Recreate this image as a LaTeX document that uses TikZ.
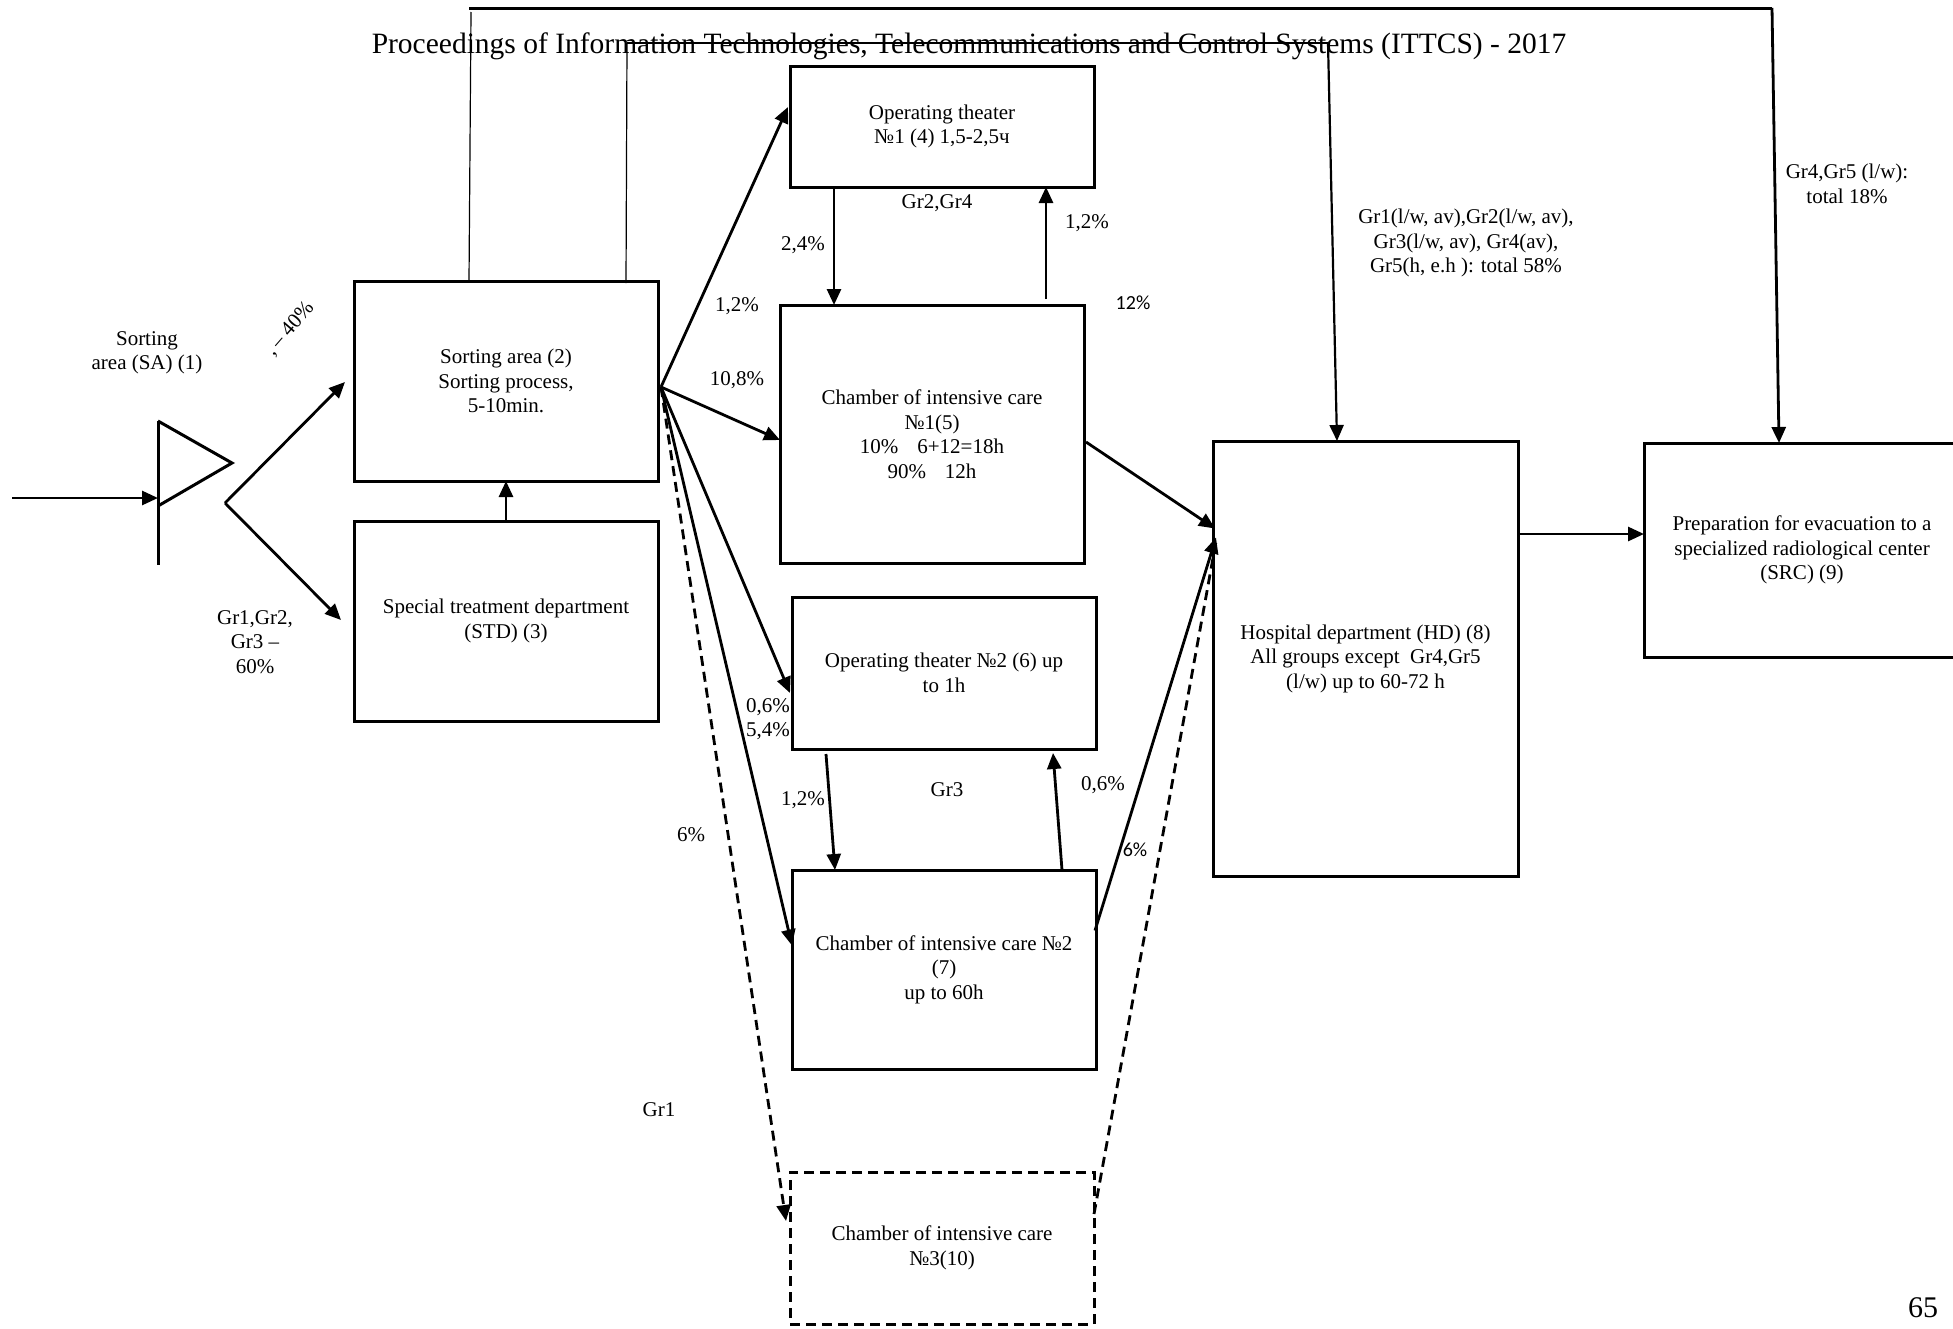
\documentclass[tikz,border=0pt]{standalone}
\usepackage{fontspec}
\setmainfont{Liberation Serif}
\newfontfamily\sansnum{Carlito}
\usetikzlibrary{arrows.meta, calc}

\begin{document}
\begin{tikzpicture}[x=1pt, y=-1pt,
    box/.style={draw, line width=3pt, fill=white, rectangle, inner sep=0pt, outer sep=0pt,
        align=center, font=\fontsize{21}{24.5}\selectfont},
    lbl/.style={font=\fontsize{21}{24.5}\selectfont, align=center, inner sep=0pt},
    flow/.style={line width=2.8pt, -{Triangle[length=16pt, width=14pt]}},
    thinline/.style={line width=1.2pt},
    ]
    \useasboundingbox (0,0) rectangle (1953,1328);

    % page header and number
    \node[font=\fontsize{29.5}{34}\selectfont, inner sep=0pt] (head) at (969,46)
        {Proceedings of Information Technologies, Telecommunications and Control Systems (ITTCS) - 2017};
    \node[font=\fontsize{30}{34}\selectfont, inner sep=0pt] (pagenum) at (1923,1308) {65};

    % labels
    \node[lbl] (saLbl) at (147,353) {Sorting\\area (SA) (1)};
    \node[lbl, rotate=49] (fortyLbl) at (290,329) {,\,– 40\%};
    \node[lbl] (sixtyLbl) at (255,642) {Gr1,Gr2,\\Gr3 –\\60\%};
    \node[lbl] (grTwoFour) at (937,203) {Gr2,Gr4};
    \node[lbl] (pctA) at (803,245) {2,4\%};
    \node[lbl] (pctB) at (1087,223) {1,2\%};
    \node[lbl] (pctC) at (737,306) {1,2\%};
    \node[lbl] (pctD) at (737,380) {10,8\%};
    \node[lbl, font=\sansnum\fontsize{20}{22}\selectfont] (pctE) at (1133,303) {12\%};
    \node[lbl] (pctF) at (768,707) {0,6\%};
    \node[lbl] (pctG) at (768,731) {5,4\%};
    \node[lbl] (grThree) at (947,790) {Gr3};
    \node[lbl] (pctH) at (803,800) {1,2\%};
    \node[lbl] (pctI) at (1103,785) {0,6\%};
    \node[lbl, font=\sansnum\fontsize{20}{22}\selectfont] (pctJ) at (1135,850) {6\%};
    \node[lbl] (pctK) at (691,835) {6\%};
    \node[lbl] (grOne) at (659,1110) {Gr1};
    \node[lbl] (hdLbl) at (1466,243) {Gr1(l/w, av),Gr2(l/w, av),\\Gr3(l/w, av), Gr4(av),\\Gr5(h, e.h ): total 58\%};
    \node[lbl] (srcLbl) at (1847,184) {Gr4,Gr5 (l/w):\\total 18\%};

    % boxes
    \node[box, minimum width=304, minimum height=200] (sort) at (506,381)
        {Sorting area (2)\\Sorting process,\\5-10min.};
    \node[box, minimum width=304, minimum height=200] (std) at (506,621)
        {Special treatment department\\(STD) (3)};
    \node[box, minimum width=304, minimum height=121] (ot1) at (942,126.5)
        {Operating theater\\№1 (4) 1,5-2,5ч};
    \node[box, minimum width=304, minimum height=258] (ch1) at (932,434)
        {Chamber of intensive care\\№1(5)\\10\%\hspace{0.9em}6+12=18h\\90\%\hspace{0.9em}12h};
    \node[box, minimum width=304, minimum height=152] (ot2) at (944,673)
        {Operating theater №2 (6) up\\to 1h};
    \node[box, minimum width=304, minimum height=199] (ch2) at (944,969.5)
        {Chamber of intensive care №2\\(7)\\up to 60h};
    \node[box, dash pattern=on 10pt off 6pt, minimum width=304, minimum height=152] (ch3) at (942,1248)
        {Chamber of intensive care\\№3(10)};
    \node[box, minimum width=305, minimum height=435] (hd) at (1365.5,658.5)
        {Hospital department (HD) (8)\\All groups except\ \ Gr4,Gr5\\(l/w) up to 60-72 h};
    \node[box, minimum width=316, minimum height=214] (src) at (1802,550)
        {Preparation for evacuation to a\\specialized radiological center\\(SRC) (9)};

    % sorting triangle (1)
    \coordinate (triA) at (158,421);
    \coordinate (triB) at (232,463);
    \coordinate (triC) at (158,506);
    \coordinate (triD) at (158,565);
    \coordinate (triIn) at (158,498);
    \coordinate (entry) at (12,498);
    \coordinate (fork) at (225,503);
    \draw[line width=3pt] (triA) -- (triB) -- (triC);
    \draw[line width=3pt] (triA) -- (triD);
    \draw[flow] (entry) -- (triIn);
    \draw[flow] (fork) -- ($(sort.west)+(-9,1)$);
    \draw[flow] (fork) -- ($(std.west)+(-13,-1)$);
    \draw[flow] (std.north) -- (sort.south);

    % fan out of the sorting area
    \coordinate (fan) at (661,387);
    \draw[flow] (fan) -- ($(ot1.north west)+(-2,41)$);
    \draw[flow] (fan) -- ($(ch1.west)+(0,6)$);
    \draw[flow] (fan) -- ($(ot2.west)+(-2,20)$);
    \draw[flow] (fan) -- ($(ch2.west)+(0,-24)$);
    \draw[flow, dash pattern=on 10pt off 6pt] (fan) -- ($(ch3.west)+(-4,-27)$);

    % theaters and chambers
    \draw[flow] ($(ot1.south west)+(44,0)$) -- ($(ch1.north west)+(54,0)$);
    \draw[flow] ($(ch1.north east)+(-38,-6)$) -- ($(ot1.south east)+(-48,0)$);
    \draw[flow] ($(ot2.south west)+(34,5)$) -- ($(ch2.north west)+(43,0)$);
    \draw[flow] ($(ch2.north east)+(-34,0)$) -- ($(ot2.south east)+(-43,4)$);

    % into the hospital department and on
    \draw[flow] ($(ch1.east)+(2,8)$) -- ($(hd.west)+(2,-130)$);
    \draw[flow] ($(ch2.east)+(-1,-39)$) -- ($(hd.west)+(3,-121)$);
    \draw[line width=2.8pt, dash pattern=on 10pt off 6pt] ($(ch3.east)+(0,-34)$) -- ($(hd.west)+(3,-117)$);
    \draw[flow] ($(hd.east)+(0,-124.5)$) -- ($(src.west)+(0,-16)$);

    % routes over the top
    \coordinate (topL) at (469,8);
    \coordinate (topR) at (1772,8);
    \coordinate (topLdown) at (471,12);
    \coordinate (midL) at (627,43);
    \coordinate (midR) at (1328,43);
    \draw[line width=3pt] (topL) -- (topR);
    \draw[flow] (topR) -- ($(src.north west)+(135,0)$);
    \draw[line width=2.2pt] (midL) -- (midR);
    \draw[flow, line width=2.2pt] (midR) -- ($(hd.north west)+(124,0)$);
    \draw[thinline] (topLdown) -- ($(sort.north west)+(115,0)$);
    \draw[thinline] (midL) -- ($(sort.north east)+(-32,2)$);
\end{tikzpicture}
\end{document}
